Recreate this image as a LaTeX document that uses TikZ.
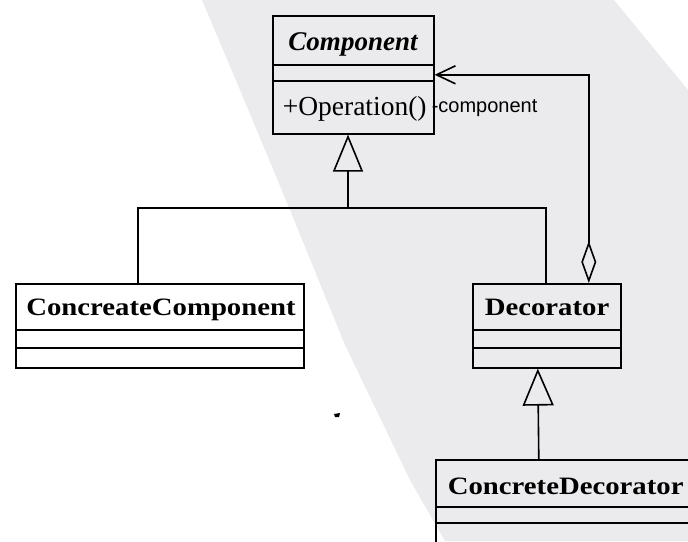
\documentclass[tikz,border=0pt]{standalone}
\usepackage{fontspec}
\setmainfont{Liberation Serif}
\newfontfamily\lsans{Liberation Sans}
\usetikzlibrary{arrows.meta}
\definecolor{wm}{RGB}{235,235,237}
\begin{document}
\begin{tikzpicture}[x=1pt,y=-1pt,line width=1.6pt,
  cls/.style={draw, rectangle, inner sep=0pt, anchor=north west},
  ttl/.style={font=\fontsize{25}{25}\selectfont\bfseries, inner sep=0pt, anchor=base},
  sep/.style={line width=1.6pt}]
\useasboundingbox (0,0) rectangle (688,541);
\clip (0,0) rectangle (688,541);
\fill[wm] (202,0) -- (614,0) -- (688,90) -- (688,541) -- (445,541) -- (410,480)
  -- (345,345) -- (290,210) -- (240,90) -- cycle;
% Component
\node[cls, minimum width=161pt, minimum height=118pt] (comp) at (272,15) {};
\node[ttl, font=\fontsize{27}{27}\selectfont\bfseries\itshape] (compT) at (353,50) {Component};
\node[inner sep=0pt, anchor=base west, font=\fontsize{27.5}{27.5}\selectfont] (op) at (282,115) {+Operation()};
\draw[sep] (comp.west |- 0,65) -- (comp.east |- 0,65);
\draw[sep] (comp.west |- 0,81) -- (comp.east |- 0,81);
% ConcreateComponent
\node[cls, minimum width=288pt, minimum height=84pt] (ccomp) at (15,283) {};
\node[ttl] (ccompT) at (161,315) {\scalebox{1.15}[1]{ConcreateComponent}};
\draw[sep] (ccomp.west |- 0,330) -- (ccomp.east |- 0,330);
\draw[sep] (ccomp.west |- 0,348) -- (ccomp.east |- 0,348);
% Decorator
\node[cls, minimum width=148pt, minimum height=84pt] (dec) at (472,283) {};
\node[ttl] (decT) at (547,315) {\scalebox{1.15}[1]{Decorator}};
\draw[sep] (dec.west |- 0,330) -- (dec.east |- 0,330);
\draw[sep] (dec.west |- 0,348) -- (dec.east |- 0,348);
% ConcreteDecorator
\node[cls, minimum width=260pt, minimum height=110pt] (cdec) at (435,459) {};
\node[ttl, anchor=base west] (cdecT) at (447,494) {\scalebox{1.15}[1]{ConcreteDecorator}};
\draw[sep] (cdec.west |- 0,507) -- (cdec.east |- 0,507);
\draw[sep] (cdec.west |- 0,523) -- (cdec.east |- 0,523);
% generalization to Component
\coordinate (j) at (348,208);
\draw[-{Triangle[open,length=37pt,width=30pt]}] (j) -- (j |- comp.south);
\draw ([xshift=-22pt]ccomp.north) |- (j) -| ([xshift=-1pt]dec.north);
% generalization to Decorator
\draw[-{Triangle[open,length=37pt,width=31pt]}] ([xshift=-27pt]cdec.north) -- ([xshift=-9pt]dec.south);
% aggregation
\draw[{Diamond[open,length=42pt,width=15pt]}-{Straight Barb[length=19pt,width=18pt]}]
  ([xshift=42pt]dec.north) |- (comp.east);
\node[inner sep=0pt, anchor=base west, font=\lsans\fontsize{20}{20}\selectfont] (role) at (431,112) {-component};
% stray scan mark
\fill (334,414) -- (340,413) -- (339,417) -- (335,417) -- cycle;
\end{tikzpicture}
\end{document}
